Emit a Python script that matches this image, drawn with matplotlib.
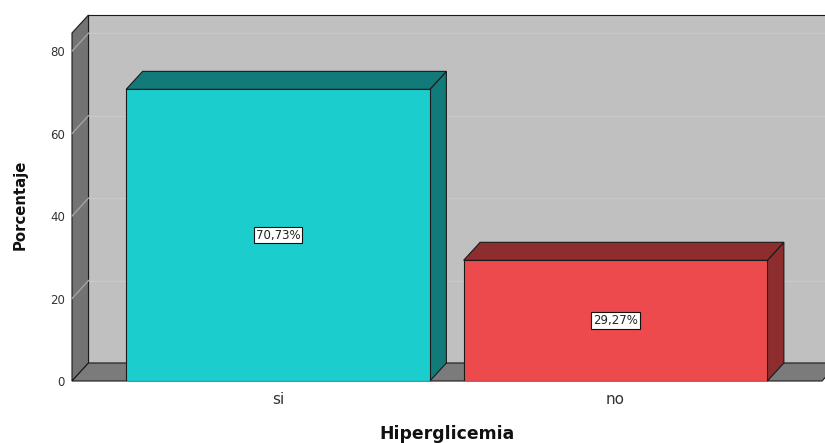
import matplotlib
matplotlib.use("Agg")
import matplotlib.pyplot as plt
from matplotlib.patches import Polygon

# Data
categories = ["si", "no"]
percentages = [70.73, 29.27]
value_labels = ["70,73%", "29,27%"]
y_ticks = [0, 20, 40, 60, 80]

# Styling
front_colors = ["#1ccdcd", "#ec4a4c"]
shade_colors = ["#127b7a", "#8e2d2e"]
back_wall = "#c0c0c0"
side_wall = "#737373"
floor_col = "#7b7b7b"
edge = "#1a1a1a"

W, H = 825, 443
fig = plt.figure(figsize=(W / 100, H / 100), dpi=100)
ax = fig.add_axes([72 / W, 62 / H, 750 / W, 348 / H])
ax.set_facecolor("none")

xmin, xmax = -0.6104, 1.6119
ymin, ymax = 0, 84.4
ax.set_xlim(xmin, xmax)
ax.set_ylim(ymin, ymax)

# 3-D depth offset (pixels -> data units)
dx = 16.5 * (xmax - xmin) / 750
dy = 18 * (ymax - ymin) / 348


def poly(pts, fc, z, ec=edge, lw=0.8):
    p = Polygon(pts, closed=True, facecolor=fc, edgecolor=ec, linewidth=lw,
                zorder=z, clip_on=False, joinstyle="miter")
    ax.add_patch(p)


# Back wall
poly([(xmin + dx, dy), (xmax + dx + 0.2, dy), (xmax + dx + 0.2, ymax + dy),
      (xmin + dx, ymax + dy)], back_wall, 0.5)

# Grid lines on back wall
for v in y_ticks[1:]:
    ax.plot([xmin + dx, xmax + dx + 0.2], [v + dy, v + dy], color="#c9c9c9",
            lw=1.0, zorder=0.6, clip_on=False)

# Left wall with its diagonal grid lines
poly([(xmin, 0), (xmin, ymax), (xmin + dx, ymax + dy), (xmin + dx, dy)],
     side_wall, 0.7)
for v in y_ticks[1:]:
    ax.plot([xmin, xmin + dx], [v, v + dy], color="#a3a3a3", lw=1.0,
            zorder=0.75, clip_on=False)

# Floor
poly([(xmin, 0), (xmax, 0), (xmax + dx, dy), (xmin + dx, dy)], floor_col, 0.9)

# Bars
bar_w = 0.9
xs = list(range(len(categories)))
bars = ax.bar(xs, percentages, width=bar_w, color=front_colors,
              edgecolor=edge, linewidth=0.8, zorder=3)
for i, (x, h) in enumerate(zip(xs, percentages)):
    x0, x1 = x - bar_w / 2, x + bar_w / 2
    # right side face
    poly([(x1, 0), (x1, h), (x1 + dx, h + dy), (x1 + dx, dy)],
         shade_colors[i], 2.5)
    # top face
    poly([(x0, h), (x1, h), (x1 + dx, h + dy), (x0 + dx, h + dy)],
         shade_colors[i], 2.5)
    ax.text(x, h / 2, value_labels[i], ha="center", va="center",
            fontsize=8.5, color="#222222", zorder=5,
            bbox=dict(boxstyle="square,pad=0.15", facecolor="white",
                      edgecolor="#111111", linewidth=0.8))

# Axes decoration
for s in ax.spines.values():
    s.set_visible(False)
ax.set_yticks(y_ticks)
ax.tick_params(axis="y", length=0, pad=5, labelsize=8.5, labelcolor="#333333")
ax.set_xticks(xs)
ax.set_xticklabels(categories)
ax.tick_params(axis="x", length=0, pad=8, labelsize=11, labelcolor="#333333")

fig.text(447 / W, 1 - 434 / H, "Hiperglicemia", ha="center", va="center",
         fontsize=12.4, fontweight="bold", color="#111111")
fig.text(20 / W, 1 - 205 / H, "Porcentaje", ha="center", va="center",
         rotation=90, fontsize=10.7, fontweight="bold", color="#111111")

fig.savefig("out.png", dpi=100)
